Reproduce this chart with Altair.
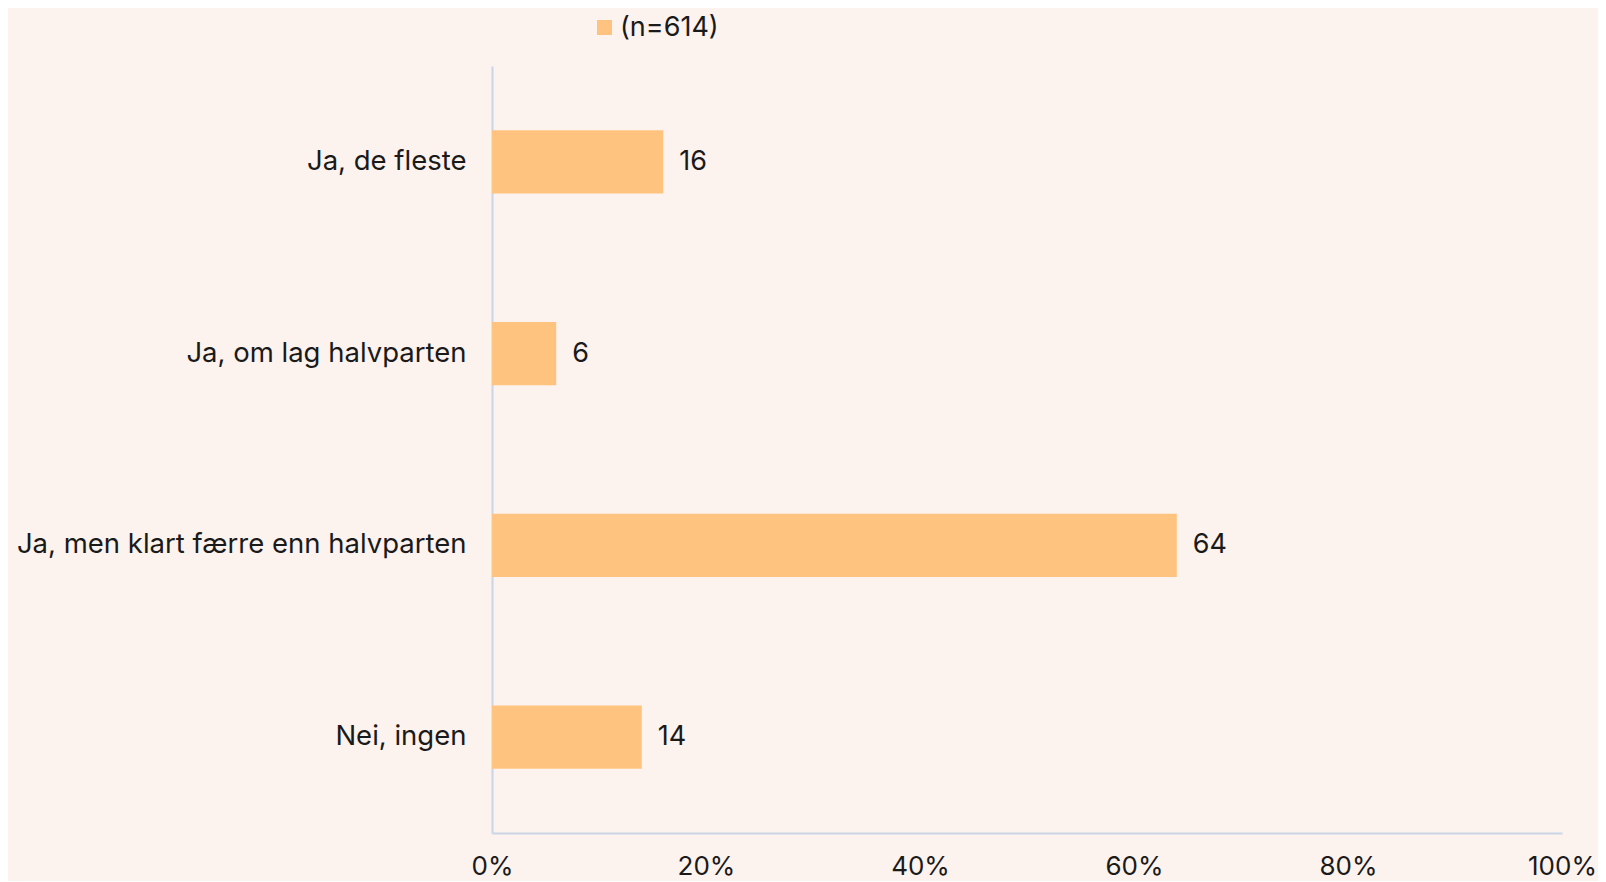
import altair as alt
import pandas as pd

categories = ["Ja, de fleste", "Ja, om lag halvparten", "Ja, men klart færre enn halvparten", "Nei, ingen"]
values = [16, 6, 64, 14]
series_name = "(n=614)"

df = pd.DataFrame({"kategori": categories, "verdi": values, "serie": [series_name] * len(categories)})

FONT = "Inter"
BG = "#FDF3EE"
BAR = "#FFC380"
TXT = "#1a1a1a"
AX = "#C9D5E6"
FS = 27.5

base = alt.Chart(df).encode(
    y=alt.Y("kategori:N", sort=categories, title=None,
            scale=alt.Scale(paddingInner=0.67, paddingOuter=0.335),
            axis=alt.Axis(labelFont=FONT, labelFontSize=FS, labelColor=TXT, labelPadding=26,
                          ticks=False, domainColor=AX, domainWidth=2, labelLimit=600)),
)

bars = base.mark_bar(color=BAR).encode(
    x=alt.X("verdi:Q", title=None,
            scale=alt.Scale(domain=[0, 100], nice=False),
            axis=alt.Axis(values=[0, 20, 40, 60, 80, 100], labelExpr="datum.value + '%'",
                          grid=False, ticks=False, labelFont=FONT, labelFontSize=26,
                          labelColor=TXT, labelPadding=20, domainColor=AX, domainWidth=2,
                          labelFlush=False)),
    color=alt.Color("serie:N", scale=alt.Scale(range=[BAR]), title=None,
                    legend=alt.Legend(orient="none", legendX=99, legendY=-52,
                                      symbolType="square", symbolSize=225, symbolStrokeWidth=0,
                                      labelFont=FONT, labelFontSize=27, labelColor=TXT,
                                      symbolOffset=0, labelOffset=2, padding=0)),
)

labels = base.mark_text(align="left", baseline="middle", dx=16, font=FONT, fontSize=27, color=TXT).encode(
    x="verdi:Q",
    text="verdi:Q",
)

chart = (bars + labels).properties(
    width=1070, height=767,
    background=BG,
    padding={"left": 484, "top": 58, "right": 36, "bottom": 48},
    autosize=alt.AutoSizeParams(type="none"),
).configure_view(stroke=None)

chart.save("out.html", embed_options={"renderer": "svg", "actions": False})
